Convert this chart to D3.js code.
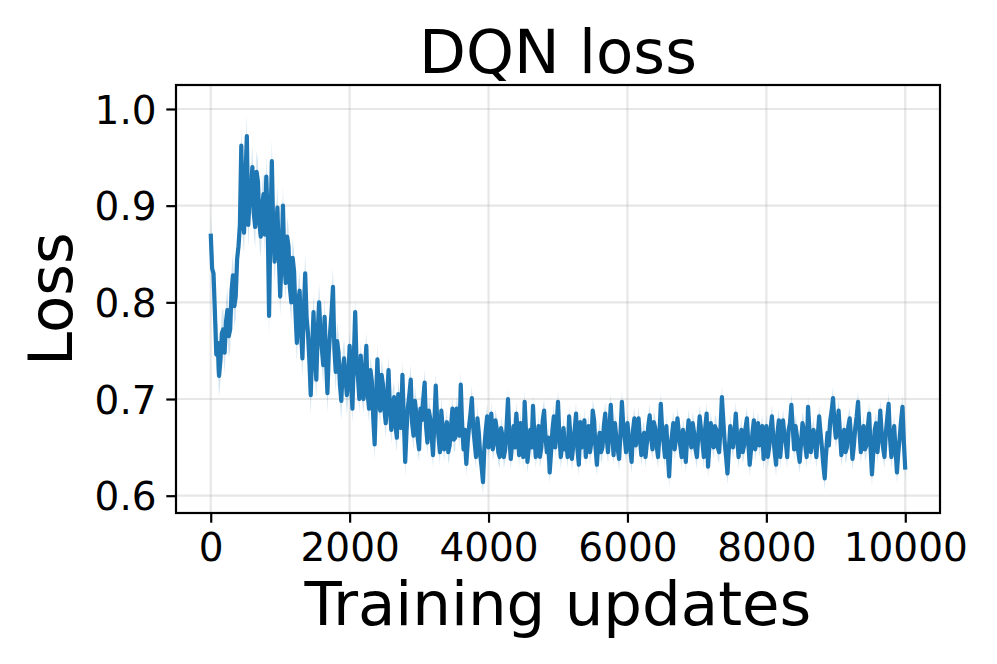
<!DOCTYPE html>
<html>
<head>
<meta charset="utf-8">
<script src="https://cdn.jsdelivr.net/npm/d3@7/dist/d3.min.js"></script>
<style>
  html, body { margin: 0; padding: 0; background: #ffffff; }
  svg { display: block; font-family: "DejaVu Sans", sans-serif; }
</style>
</head>
<body>
<svg id="chart" width="997" height="664"></svg>
<script>
// ---- data ----
const title = "DQN loss";
const xLabel = "Training updates";
const yLabel = "Loss";
const step = 20; // training updates between logged points
// one row = 10 points = 200 updates
const lossValues = [
  0.871, 0.835, 0.830, 0.790, 0.746, 0.758, 0.724, 0.740, 0.768, 0.772,
  0.748, 0.780, 0.792, 0.765, 0.772, 0.812, 0.828, 0.796, 0.806, 0.845,
  0.858, 0.880, 0.962, 0.890, 0.872, 0.930, 0.972, 0.880, 0.905, 0.918,
  0.940, 0.892, 0.878, 0.935, 0.925, 0.882, 0.868, 0.900, 0.912, 0.870,
  0.930, 0.885, 0.786, 0.880, 0.946, 0.875, 0.842, 0.870, 0.898, 0.850,
  0.806, 0.845, 0.900, 0.842, 0.820, 0.868, 0.858, 0.815, 0.800, 0.846,
  0.832, 0.790, 0.758, 0.800, 0.812, 0.770, 0.742, 0.790, 0.830, 0.785,
  0.768, 0.740, 0.704, 0.752, 0.790, 0.745, 0.720, 0.768, 0.800, 0.770,
  0.752, 0.735, 0.785, 0.742, 0.706, 0.748, 0.770, 0.790, 0.816, 0.752,
  0.728, 0.760, 0.748, 0.715, 0.698, 0.730, 0.742, 0.722, 0.704, 0.720,
  0.755, 0.718, 0.690, 0.742, 0.790, 0.735, 0.722, 0.700, 0.745, 0.712,
  0.700, 0.728, 0.755, 0.705, 0.690, 0.730, 0.718, 0.680, 0.653, 0.700,
  0.741, 0.702, 0.688, 0.725, 0.715, 0.690, 0.675, 0.702, 0.730, 0.690,
  0.668, 0.695, 0.702, 0.672, 0.660, 0.705, 0.690, 0.670, 0.725, 0.680,
  0.635, 0.668, 0.692, 0.705, 0.720, 0.675, 0.662, 0.698, 0.685, 0.660,
  0.648, 0.690, 0.678, 0.700, 0.717, 0.672, 0.655, 0.688, 0.680, 0.662,
  0.642, 0.675, 0.714, 0.678, 0.660, 0.645, 0.688, 0.670, 0.648, 0.665,
  0.676, 0.645, 0.652, 0.672, 0.690, 0.658, 0.660, 0.690, 0.680, 0.662,
  0.715, 0.672, 0.648, 0.668, 0.633, 0.655, 0.672, 0.685, 0.701, 0.670,
  0.655, 0.640, 0.680, 0.665, 0.642, 0.630, 0.614, 0.650, 0.668, 0.682,
  0.650, 0.665, 0.685, 0.648, 0.655, 0.678, 0.668, 0.645, 0.640, 0.670,
  0.662, 0.640, 0.648, 0.672, 0.700, 0.660, 0.638, 0.655, 0.672, 0.650,
  0.685, 0.665, 0.642, 0.675, 0.660, 0.640, 0.697, 0.665, 0.635, 0.650,
  0.668, 0.650, 0.693, 0.662, 0.640, 0.655, 0.672, 0.640, 0.650, 0.678,
  0.688, 0.660, 0.645, 0.660, 0.624, 0.645, 0.668, 0.682, 0.650, 0.672,
  0.697, 0.662, 0.640, 0.652, 0.670, 0.648, 0.655, 0.640, 0.682, 0.660,
  0.638, 0.652, 0.668, 0.685, 0.648, 0.632, 0.676, 0.650, 0.660, 0.678,
  0.640, 0.658, 0.672, 0.645, 0.655, 0.688, 0.678, 0.650, 0.632, 0.655,
  0.665, 0.645, 0.650, 0.672, 0.685, 0.660, 0.645, 0.670, 0.694, 0.665,
  0.642, 0.675, 0.660, 0.648, 0.638, 0.665, 0.697, 0.672, 0.660, 0.645,
  0.675, 0.660, 0.648, 0.635, 0.668, 0.680, 0.652, 0.665, 0.680, 0.658,
  0.642, 0.660, 0.665, 0.640, 0.655, 0.672, 0.683, 0.660, 0.648, 0.676,
  0.670, 0.652, 0.640, 0.662, 0.695, 0.668, 0.655, 0.640, 0.672, 0.645,
  0.620, 0.650, 0.662, 0.675, 0.648, 0.660, 0.680, 0.665, 0.652, 0.640,
  0.668, 0.658, 0.635, 0.660, 0.678, 0.662, 0.650, 0.675, 0.665, 0.648,
  0.640, 0.662, 0.682, 0.668, 0.655, 0.640, 0.670, 0.685, 0.630, 0.652,
  0.675, 0.660, 0.650, 0.672, 0.668, 0.650, 0.645, 0.670, 0.702, 0.678,
  0.655, 0.640, 0.623, 0.648, 0.672, 0.660, 0.650, 0.665, 0.685, 0.660,
  0.640, 0.655, 0.668, 0.645, 0.652, 0.670, 0.680, 0.655, 0.632, 0.648,
  0.665, 0.678, 0.648, 0.660, 0.675, 0.652, 0.660, 0.672, 0.638, 0.655,
  0.672, 0.640, 0.650, 0.668, 0.682, 0.660, 0.645, 0.632, 0.665, 0.678,
  0.640, 0.658, 0.678, 0.662, 0.655, 0.640, 0.668, 0.675, 0.694, 0.670,
  0.648, 0.672, 0.662, 0.645, 0.635, 0.655, 0.675, 0.668, 0.652, 0.640,
  0.692, 0.668, 0.645, 0.660, 0.668, 0.655, 0.640, 0.662, 0.682, 0.665,
  0.650, 0.632, 0.618, 0.645, 0.665, 0.652, 0.678, 0.688, 0.701, 0.675,
  0.660, 0.672, 0.688, 0.665, 0.642, 0.655, 0.668, 0.645, 0.650, 0.672,
  0.680, 0.660, 0.638, 0.652, 0.670, 0.682, 0.697, 0.668, 0.645, 0.660,
  0.672, 0.648, 0.652, 0.670, 0.685, 0.650, 0.622, 0.645, 0.668, 0.675,
  0.645, 0.662, 0.688, 0.665, 0.650, 0.640, 0.665, 0.680, 0.695, 0.660,
  0.640, 0.655, 0.672, 0.648, 0.624, 0.645, 0.660, 0.678, 0.692, 0.655,
  0.627
];
// half-width of the shaded band, per block of 1000 updates
const bandSpread = [0.022, 0.020, 0.015, 0.013, 0.012, 0.012, 0.012, 0.012, 0.012, 0.012, 0.012];
const xTicks = [0, 2000, 4000, 6000, 8000, 10000];
const yTicks = [0.6, 0.7, 0.8, 0.9, 1.0];

// ---- layout ----
const svg = d3.select("#chart");
const W = 997, H = 664;
const plot = { left: 176, right: 940, top: 85, bottom: 513 };
const blue = "#1f77b4";
const tickFont = 39, labelFont = 61;
const tickLen = 9.7, tickPad = 9.7;

svg.append("rect").attr("width", W).attr("height", H).attr("fill", "#fff");

const x = d3.scaleLinear().domain([-500, 10500]).range([plot.left, plot.right]);
const y = d3.scaleLinear().domain([0.5821, 1.0248]).range([plot.bottom, plot.top]);

const data = lossValues.map((v, i) => {
  const u = i * step;
  const s = bandSpread[Math.min(Math.floor(u / 1000), bandSpread.length - 1)];
  return { u, v, lo: v - s, hi: v + s };
});

// grid
const grid = svg.append("g");
grid.selectAll(".gx").data(xTicks).enter().append("line")
  .attr("x1", d => x(d)).attr("x2", d => x(d))
  .attr("y1", plot.top).attr("y2", plot.bottom)
  .attr("stroke", "#b0b0b0").attr("stroke-opacity", 0.3).attr("stroke-width", 2.2);
grid.selectAll(".gy").data(yTicks).enter().append("line")
  .attr("x1", plot.left).attr("x2", plot.right)
  .attr("y1", d => y(d)).attr("y2", d => y(d))
  .attr("stroke", "#b0b0b0").attr("stroke-opacity", 0.3).attr("stroke-width", 2.2);

// clip
svg.append("clipPath").attr("id", "clip").append("rect")
  .attr("x", plot.left).attr("y", plot.top)
  .attr("width", plot.right - plot.left).attr("height", plot.bottom - plot.top);

const g = svg.append("g").attr("clip-path", "url(#clip)");

// band
g.append("path").datum(data)
  .attr("d", d3.area().x(d => x(d.u)).y0(d => y(d.lo)).y1(d => y(d.hi)))
  .attr("fill", blue).attr("fill-opacity", 0.2);

// line
g.append("path").datum(data)
  .attr("d", d3.line().x(d => x(d.u)).y(d => y(d.v)))
  .attr("fill", "none").attr("stroke", blue).attr("stroke-width", 4.2)
  .attr("stroke-linejoin", "round").attr("stroke-linecap", "butt");

// axes
const xAxis = d3.axisBottom(x).tickValues(xTicks).tickFormat(d3.format("d"))
  .tickSize(tickLen).tickPadding(tickPad);
const yAxis = d3.axisLeft(y).tickValues(yTicks).tickFormat(d3.format(".1f"))
  .tickSize(tickLen).tickPadding(tickPad);

const gx = svg.append("g").attr("transform", `translate(0,${plot.bottom})`).call(xAxis);
const gy = svg.append("g").attr("transform", `translate(${plot.left},0)`).call(yAxis);
[gx, gy].forEach(a => {
  a.select(".domain").remove();
  a.selectAll(".tick line").attr("stroke", "#000").attr("stroke-width", 2.2);
  a.selectAll(".tick text").attr("fill", "#000")
    .style("font-size", tickFont + "px").style("font-family", "'DejaVu Sans', sans-serif");
});
gx.selectAll(".tick text").attr("dy", null).attr("y", tickLen + tickPad + 0.729 * tickFont);
gy.selectAll(".tick text").attr("dy", null).attr("y", 0.729 * tickFont / 2);

// spines
svg.append("rect")
  .attr("x", plot.left).attr("y", plot.top)
  .attr("width", plot.right - plot.left).attr("height", plot.bottom - plot.top)
  .attr("fill", "none").attr("stroke", "#000").attr("stroke-width", 2.2);

// title and labels
const cx = (plot.left + plot.right) / 2;
svg.append("text").attr("x", cx).attr("y", 73).attr("text-anchor", "middle")
  .style("font-size", labelFont + "px").attr("fill", "#000").text(title);
svg.append("text").attr("x", cx).attr("y", 624.5).attr("text-anchor", "middle")
  .style("font-size", labelFont + "px").attr("fill", "#000").text(xLabel);
svg.append("text")
  .attr("transform", `translate(71.5,${(plot.top + plot.bottom) / 2}) rotate(-90)`)
  .attr("text-anchor", "middle")
  .style("font-size", labelFont + "px").attr("fill", "#000").text(yLabel);
</script>
</body>
</html>
